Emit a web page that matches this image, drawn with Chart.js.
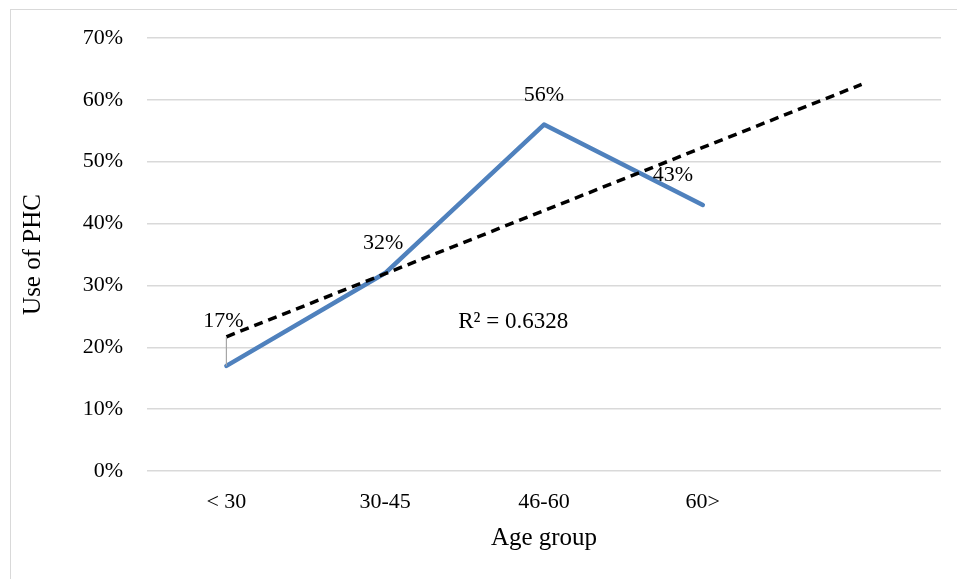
<!DOCTYPE html>
<html>
<head>
<meta charset="utf-8">
<script src="https://cdn.jsdelivr.net/npm/chart.js@4.4.0/dist/chart.umd.min.js"></script>
<style>
    body { margin: 0; background: #fff; }
    #wrap { position: relative; width: 957px; height: 579px; }
    #frame { position: absolute; left: 10px; top: 9px; width: 980px; height: 600px; border-left: 1px solid #d9d9d9; border-top: 1px solid #d9d9d9; pointer-events: none; }
</style>
</head>
<body>
<div id="wrap">
    <canvas id="myChart" width="957" height="579"></canvas>
    <div id="frame"></div>
</div>
<script>
// categories (last one is the empty slot the trend line runs into)
var ageGroups = ["< 30", "30-45", "46-60", "60>", ""];
var usePHC = [17, 32, 56, 43, null];
// linear trend
var trend = [21.7, 31.9, 42.1, 52.3, 62.5];
var rSquared = "R² = 0.6328";
var yTicks = [0, 10, 20, 30, 40, 50, 60, 70];

const serif = "'Liberation Serif', 'Times New Roman', serif";

const labelPlugin = {
    id: 'labels',
    afterDatasetsDraw(chart) {
        const ctx = chart.ctx;
        const x = chart.scales.x, y = chart.scales.y;
        // label offsets from the data point (dx, dy)
        const offs = [[-3, -45], [-2, -30], [0, -29], [-30, -30]];
        ctx.save();
        // leader line for the first label
        ctx.strokeStyle = '#a6a6a6';
        ctx.lineWidth = 1.2;
        ctx.beginPath();
        ctx.moveTo(x.getPixelForValue(0), y.getPixelForValue(trend[0]));
        ctx.lineTo(x.getPixelForValue(0), y.getPixelForValue(usePHC[0]));
        ctx.stroke();

        ctx.fillStyle = '#000';
        ctx.font = "22px " + serif;
        ctx.textAlign = 'center';
        ctx.textBaseline = 'middle';
        usePHC.forEach((v, i) => {
            if (v == null) return;
            const px = x.getPixelForValue(i) + offs[i][0];
            const py = y.getPixelForValue(v) + offs[i][1];
            ctx.fillText(v + '%', px, py);
        });
        ctx.textAlign = 'left';
        ctx.font = "23px " + serif;
        ctx.fillText(rSquared, x.getPixelForValue(1) + 73, y.getPixelForValue(24.1));
        ctx.restore();
    }
};

const ctx = document.getElementById('myChart');
new Chart(ctx, {
    type: 'line',
    data: {
        labels: ageGroups,
        datasets: [{
            label: 'Use of PHC',
            data: usePHC,
            borderColor: '#4f81bd',
            borderWidth: 4.5,
            pointRadius: 0,
            tension: 0,
            borderJoinStyle: 'round',
            borderCapStyle: 'round',
            order: 2
        }, {
            label: 'Trend',
            data: trend,
            borderColor: '#000',
            borderWidth: 3.5,
            borderDash: [9, 6],
            pointRadius: 0,
            tension: 0,
            order: 1
        }]
    },
    options: {
        responsive: false,
        animation: false,
        layout: { padding: { left: 10, top: 38, right: 16, bottom: 25 } },
        plugins: { legend: { display: false }, tooltip: { enabled: false } },
        scales: {
            x: {
                offset: true,
                grid: { display: false },
                border: { display: false },
                ticks: { color: '#000', font: { family: serif, size: 22 }, padding: 10, maxRotation: 0, autoSkip: false },
                title: { display: true, text: 'Age group', color: '#000', font: { family: serif, size: 25 }, padding: { top: 0, bottom: 1 } },
                afterFit(scale) { scale.height = 83; }
            },
            y: {
                min: 0,
                max: 70,
                afterBuildTicks(scale) { scale.ticks = yTicks.map(v => ({ value: v })); },
                grid: { color: '#d9d9d9', lineWidth: 1.5, drawTicks: false },
                border: { display: false },
                ticks: { color: '#000', font: { family: serif, size: 22 }, padding: 24, callback: v => v + '%' },
                title: { display: true, text: 'Use of PHC', color: '#000', font: { family: serif, size: 25 }, padding: { top: 8, bottom: 0 } },
                afterFit(scale) { scale.width = 137; }
            }
        }
    },
    plugins: [labelPlugin]
});
</script>
</body>
</html>
